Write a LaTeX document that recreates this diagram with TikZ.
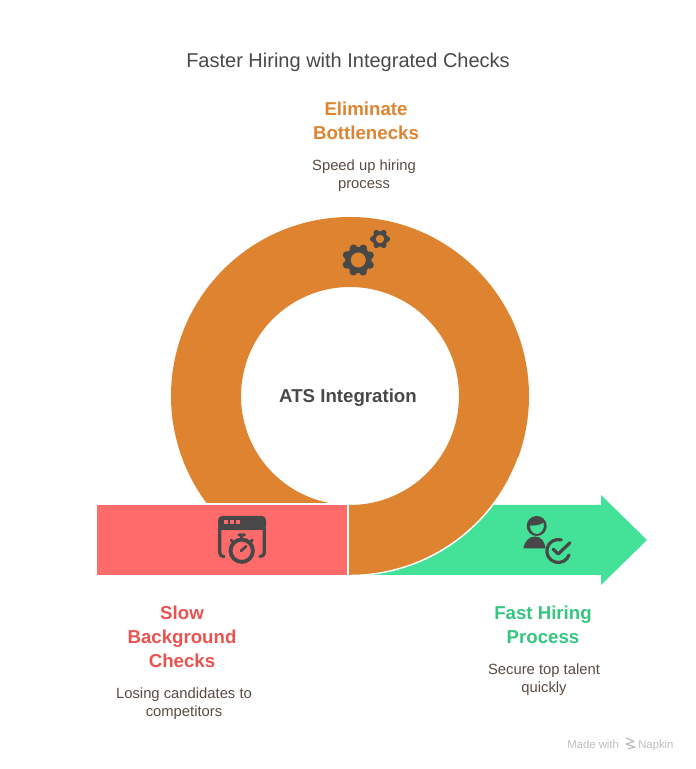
\documentclass[tikz,border=0pt]{standalone}
\usepackage{fontspec}
\setmainfont{Liberation Sans}
\usetikzlibrary{positioning}

\definecolor{ringcol}{HTML}{DE8431}
\definecolor{slowcol}{HTML}{FF6B6B}
\definecolor{slowtext}{HTML}{E8534F}
\definecolor{fastcol}{HTML}{44E298}
\definecolor{fasttext}{HTML}{36C57F}
\definecolor{iconcol}{HTML}{484848}
\definecolor{bodycol}{HTML}{5A4A42}
\definecolor{markcol}{HTML}{BDBDBD}

\tikzset{
	headline/.style={inner sep=0pt, align=center, font=\fontsize{14}{18}\selectfont\bfseries},
	subline/.style={inner sep=0pt, align=center, text=bodycol, font=\fontsize{11.1}{13.5}\selectfont},
	iconline/.style={draw=iconcol, line width=2.4pt, line cap=round},
}

\begin{document}
\begin{tikzpicture}[x=0.75pt, y=0.75pt]
	\useasboundingbox (0,0) rectangle (696,769);

	% arrow and bar
	\fill [fastcol] (349,264) -- (601,264) -- (601,274) -- (647,229) -- (601,184) -- (601,194) -- (349,194) -- cycle;
	\fill [ringcol]
		(349,194) -- (350,194) arc [start angle=-90, end angle=216.7, radius=179]
		-- (329.2,266) arc [start angle=259, end angle=-90, radius=109] -- (349,264) -- cycle;
	\draw [white, line width=1.1pt] (350,193.5) arc [start angle=-90, end angle=-20, radius=179.5];
	\fill [slowcol] (97,194) rectangle (347,264);

	% gears
	\fill [iconcol] (358.3,509) circle (13.2);
	\foreach \a in {0,45,...,315} \fill [iconcol] (358.3,509) ++(\a+22:12.6) circle (3.9);
	\fill [ringcol] (358.3,509) circle (7.5);
	\fill [iconcol] (380,530) circle (7.8);
	\foreach \a in {0,60,...,300} \fill [iconcol] (380,530) ++(\a:7.2) circle (2.9);
	\fill [ringcol] (380,530) circle (4.2);

	% window with stopwatch
	\fill [iconcol, rounded corners=3] (218,239) -- (218,253) -- (266,253) -- (266,239) -- cycle;
	\foreach \x in {226,232,238} \fill [slowcol] (\x-2,244.5) rectangle (\x+2,248.5);
	\draw [iconline] (219.7,241) -- (219.7,216) to [out=-90, in=180] (224,212.5);
	\draw [iconline] (264.3,241) -- (264.3,216) to [out=-90, in=0] (260,212.5);
	\draw [iconcol, line width=2.9pt] (241.7,218.3) circle (11.2);
	\draw [iconline, line width=2pt] (241,218) -- (246.2,222.8);
	\fill [iconcol, rounded corners=1] (237.5,232.5) rectangle (246,235.5);
	\fill [iconcol] (240.3,228) rectangle (243,233);
	\draw [iconline, line width=2pt] (232.6,227.2) -- (231,229.2);
	\draw [iconline, line width=2pt] (250.8,227.2) -- (252.4,229.2);

	% person with tick
	\fill [iconcol] (536.7,243) circle (10);
	\fill [fastcol] (530,243.5) .. controls (533,243.5) and (540,243) .. (543.7,246.5)
		.. controls (545,240) and (541,235) .. (536.7,235)
		.. controls (533,235) and (530,239) .. cycle;
	\fill [iconcol] (523.3,220.7) .. controls (525,228) and (529,232.5) .. (535,232.5)
		.. controls (541,232.5) and (544.5,228) .. (545.5,220.7) -- cycle;
	\draw [iconline] (558.3,218) ++(75:11.5) arc [start angle=75, end angle=340, radius=11.5];
	\draw [iconline, line join=round] (553.3,219.7) -- (558.3,215) -- (570,226.3);

	% texts
	\node (title) [inner sep=0pt, text=iconcol, font=\fontsize{15}{18}\selectfont] at (348,707) {Faster Hiring with Integrated Checks};
	\node (ats) [headline, text=iconcol] at (348,371) {ATS Integration};

	\node (eliminate) [headline, text=ringcol] at (366,648) {Eliminate\\Bottlenecks};
	\node (speed) [subline, below=27pt of eliminate.south, xshift=-1.5pt, anchor=center] {Speed up hiring\\process};

	\node (slowhead) [headline, text=slowtext] at (182,132) {Slow\\Background\\Checks};
	\node (losing) [subline, below=27pt of slowhead.south, xshift=1.5pt, anchor=center] {Losing candidates to\\competitors};

	\node (fasthead) [headline, text=fasttext] at (543,144) {Fast Hiring\\Process};
	\node (secure) [subline, below=27pt of fasthead.south, xshift=0.75pt, anchor=center] {Secure top talent\\quickly};

	% watermark
	\node (made) [inner sep=0pt, anchor=base west, text=markcol, font=\fontsize{8.5}{10}\selectfont] at (567,21) {Made with};
	\node (napkin) [inner sep=0pt, anchor=base west, text=markcol, font=\fontsize{8.5}{10}\selectfont] at (638,21) {Napkin};
	\draw [markcol, line width=0.9pt, line join=round] (626,31) -- (634,27.5) -- (626,25) -- (635,22) -- (628,20);
\end{tikzpicture}
\end{document}
